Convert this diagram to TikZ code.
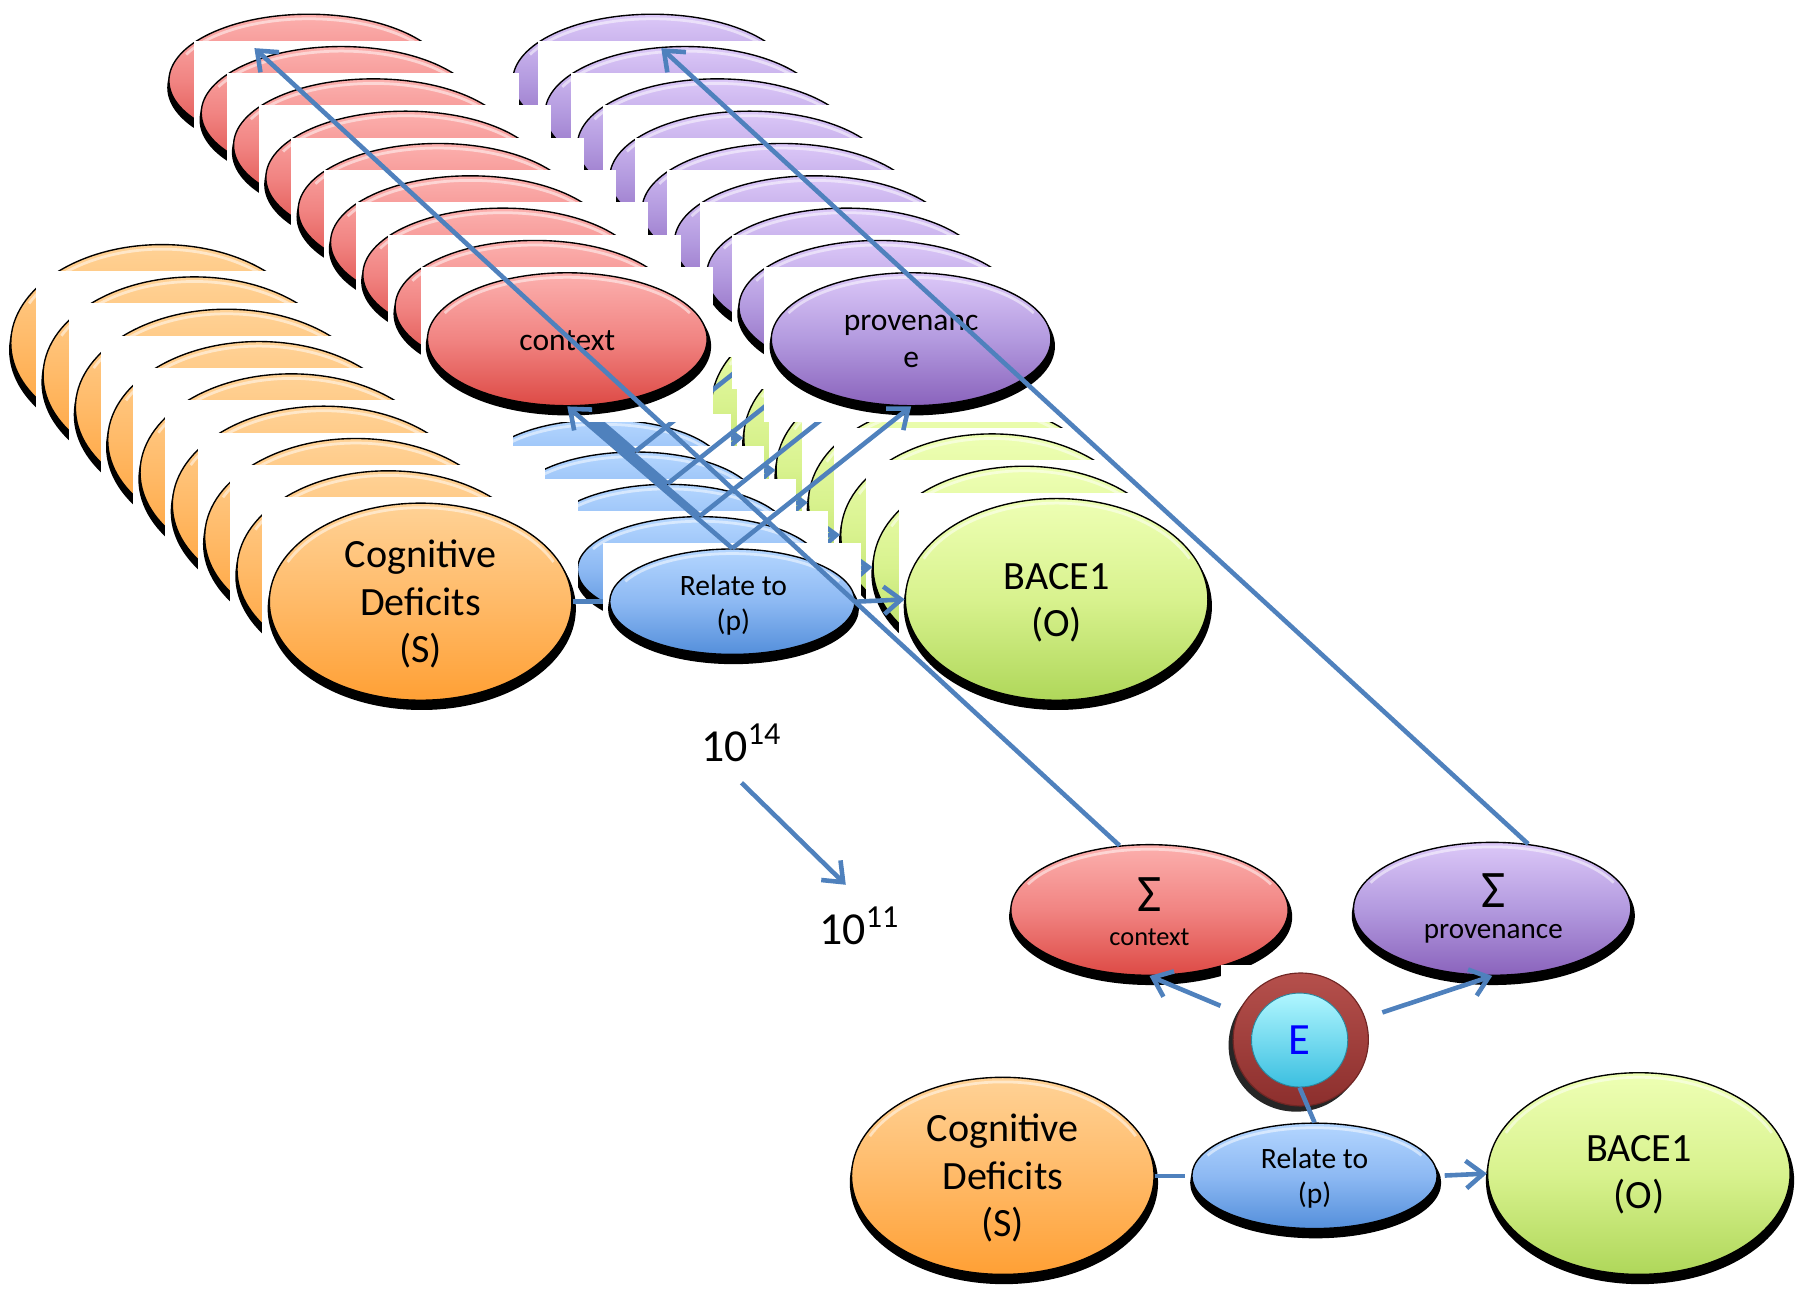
\documentclass[tikz,border=0pt]{standalone}
\usepackage{fontspec}
\setmainfont{Carlito}
\usetikzlibrary{shapes.geometric,arrows.meta}
\definecolor{lineblue}{HTML}{4F81BD}
\definecolor{orTop}{HTML}{FFD296}
\definecolor{orMid}{HTML}{FFBA68}
\definecolor{orBot}{HTML}{FFA035}
\definecolor{rdTop}{HTML}{FCB0AE}
\definecolor{rdMid}{HTML}{F18482}
\definecolor{rdBot}{HTML}{DD4A45}
\definecolor{puTop}{HTML}{DCC8F8}
\definecolor{puMid}{HTML}{B39ADF}
\definecolor{puBot}{HTML}{8A63BC}
\definecolor{blTop}{HTML}{B4D6FF}
\definecolor{blMid}{HTML}{8DB9F3}
\definecolor{blBot}{HTML}{548FDB}
\definecolor{grTop}{HTML}{EEFFB4}
\definecolor{grMid}{HTML}{D8F28E}
\definecolor{grBot}{HTML}{AFD75A}
\definecolor{cyTop}{HTML}{B0F6FF}
\definecolor{cyBot}{HTML}{3BBFE0}
\definecolor{ringTop}{HTML}{B5504C}
\definecolor{ringBot}{HTML}{8C2F2D}
\tikzset{
  conn/.style={draw=lineblue, line width=2pt},
  arr/.style={conn, -{Straight Barb[length=7.5pt,width=12pt]}},
  orangefill/.style={top color=orTop, bottom color=orBot, middle color=orMid},
  redfill/.style={top color=rdTop, bottom color=rdBot, middle color=rdMid},
  purplefill/.style={top color=puTop, bottom color=puBot, middle color=puMid},
  bluefill/.style={top color=blTop, bottom color=blBot, middle color=blMid},
  greenfill/.style={top color=grTop, bottom color=grBot, middle color=grMid},
  blobnode/.style={ellipse, draw=black, line width=0.6pt, inner sep=0pt},
  lbl/.style={align=center, inner sep=0pt, text=black},
  bigfont/.style={font=\fontsize{17.5}{20.75}\selectfont},
  relfont/.style={font=\fontsize{12.9}{15.5}\selectfont},
  objfont/.style={font=\fontsize{17.5}{20.5}\selectfont},
  sigfont/.style={font=\fontsize{23}{23}\selectfont},
}
% #1 name, #2 cx, #3 cy, #4 rx, #5 ry, #6 fill style
\newcommand\blob[6]{%
  \fill[white] ({#2-#4-6},{#3-#5-5}) rectangle ({#2+#4+5},{#3+#5+14});
  \fill[black] ({#2+1},{#3+6}) ellipse [x radius={#4+2.5}, y radius={#5+2.5}];
  \node[blobnode, minimum width=#4pt, minimum height=#5pt, #6] (#1) at (#2,#3) {};
  \draw[white, opacity=.5, line width=1.2pt] ({#2+(#4-4)*cos(205)},{#3+(#5-4)*sin(205)}) arc [start angle=205, end angle=335, x radius={#4-4}, y radius={#5-4}];
}
\begin{document}
\begin{tikzpicture}[x=0.5pt,y=-0.5pt]
\useasboundingbox (0,0) rectangle (1568,1126.5);
% stacked layers, back to front
\foreach \k in {8,7,...,0}{
  \begin{scope}[shift={({-28.2*\k},{-28.2*\k})}]
    \blob{S\k}{367}{525}{132}{86}{orangefill}
    \blob{p\k}{639}{525}{107}{46}{bluefill}
    \blob{O\k}{922}{523}{132}{88}{greenfill}
    \blob{C\k}{495}{296}{122}{58}{redfill}
    \blob{P\k}{795}{296}{122}{58}{purplefill}
    \draw[conn, shorten >=2.5pt] (S\k.east) -- (p\k.west);
    \draw[arr] (p\k.east) -- (O\k.west);
    \draw[arr] (p\k.north) -- (C\k.south);
    \draw[arr] (p\k.north) -- (P\k.south);
  \end{scope}
}
% front labels
\node[lbl, bigfont] (tS0) at (367,527) {Cognitive\\Deficits\\(S)};
\node[lbl, relfont] (tp0) at (640,528) {Relate to\\(p)};
\node[lbl, objfont] (tO0) at (922,526) {BACE1\\(O)};
\node[lbl, font=\fontsize{13.75}{16.5}\selectfont] (tC0) at (495,297) {context};
\node[lbl, font=\fontsize{13.75}{16}\selectfont] (tP0) at (795,298) {provenanc\\e};
% reduction numbers
\node[lbl, font=\fontsize{20}{24}\selectfont] (n14) at (647,648) {10\textsuperscript{14}};
\node[lbl, font=\fontsize{20}{24}\selectfont] (n11) at (750,808) {10\textsuperscript{11}};
\coordinate (a1) at (647,683);
\coordinate (a2) at (738,772);
\draw[arr] (a1) -- (a2);
% bottom cluster
\blob{SC}{1003}{794}{121}{57}{redfill}
\blob{SP}{1302}{793}{121}{58}{purplefill}
\node[lbl, sigfont] (SCs) at (1003,781) {Σ};
\node[lbl, font=\fontsize{11.5}{14}\selectfont] (SCt) at (1003,818) {context};
\node[lbl, sigfont] (SPs) at (1303,777) {Σ};
\node[lbl, font=\fontsize{12.7}{15}\selectfont] (SPt) at (1303,815) {provenance};
\fill[white] (1065,842) rectangle (1206,975);
\fill[black!85] (1131,912) ellipse [x radius=59, y radius=58];
\node[ellipse, inner sep=0pt, minimum width=59pt, minimum height=58pt, top color=ringTop, bottom color=ringBot, draw=ringBot!80!black, line width=.5pt] (Ering) at (1135,907) {};
\node[ellipse, inner sep=0pt, minimum width=42pt, minimum height=41pt, top color=cyTop, bottom color=cyBot, draw=cyBot!70!black, line width=.4pt, text=blue, font=\fontsize{19.5}{20}\selectfont] (Ecore) at (1134,907.5) {E};
\draw[arr, shorten <=38pt] (Ering.center) -- (SC.south);
\draw[arr, shorten <=37.5pt] (Ering.center) -- (SP.south);
\blob{Sb}{875}{1026}{132}{86}{orangefill}
\blob{pb}{1147}{1026}{107}{46}{bluefill}
\blob{Ob}{1430}{1024}{132}{88}{greenfill}
\node[lbl, bigfont] (tSb) at (875,1028) {Cognitive\\Deficits\\(S)};
\node[lbl, relfont] (tpb) at (1147,1028) {Relate to\\(p)};
\node[lbl, objfont] (tOb) at (1430,1025) {BACE1\\(O)};
\draw[conn, shorten >=2.5pt] (Sb.east) -- (pb.west);
\draw[arr, shorten <=3pt] (pb.east) -- (Ob.west);
\draw[conn] (pb.north) -- (Ecore.south);
% long links to the back-most layer
\coordinate (tipC) at (222,42);
\coordinate (tipP) at (577,42);
\draw[arr] (SC.115) -- (tipC);
\draw[arr] (SP.61) -- (tipP);
\end{tikzpicture}
\end{document}
